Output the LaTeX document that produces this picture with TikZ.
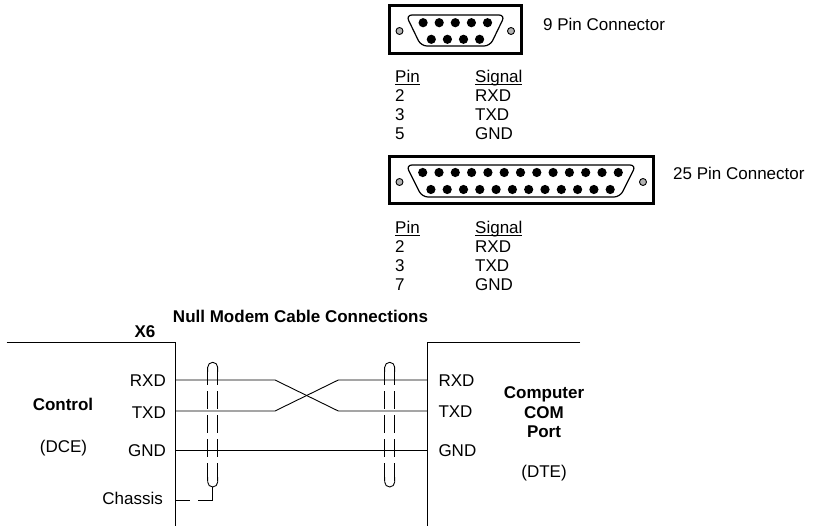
\documentclass[tikz,border=0pt]{standalone}
\usepackage{fontspec}
\setmainfont{Liberation Sans}
\usetikzlibrary{positioning}
\newcommand{\undl}[1]{\setbox0\hbox{#1}\rlap{\rule[-1.9pt]{\wd0}{0.9pt}}\box0}
\tikzset{
  txt/.style={font=\fontsize{17}{19}\selectfont, inner sep=0pt},
  btxt/.style={txt, font=\fontsize{17}{19}\selectfont\bfseries},
  wire/.style={line width=0.9pt},
  dsub/.style={draw, line width=3pt, inner sep=0pt, outer sep=0pt},
  shell/.style={line width=1.2pt, rounded corners=6pt},
  screw/.style={draw, line width=0.9pt, fill=gray!60},
}
\begin{document}
\begin{tikzpicture}[x=1pt,y=-1pt]
\useasboundingbox (0,0) rectangle (819,526);
% 9 pin connector
\node[dsub, minimum width=132pt, minimum height=48pt] (db9) at (455.5,29.5) {};
\draw[shell] (406,15)--(505,15)--(490,46)--(421,46)--cycle;
\foreach \i in {0,...,4} \fill (423.1+16.1*\i,22.7) circle[radius=4.6pt];
\foreach \i in {0,...,3} \fill (431.3+16.1*\i,39.3) circle[radius=4.6pt];
\draw[screw] (399.5,31) circle[radius=3.5pt] (511,31) circle[radius=3.5pt];
\node[txt, anchor=base west] (lbl9) at (543,30.7) {9 Pin Connector};
\node[txt, anchor=base west] (pin9) at (395,83) {\undl{Pin}};
\node[txt, anchor=base west] (sig9) at (475,83) {\undl{Signal}};
\foreach \p/\s [count=\k] in {2/RXD,3/TXD,5/GND}{
  \node[txt, anchor=base west] (p9-\k) at (395,83+19*\k) {\p};
  \node[txt, anchor=base west] (s9-\k) at (475,83+19*\k) {\s};
}
% 25 pin connector
\node[dsub, minimum width=264pt, minimum height=47pt] (db25) at (521.5,180) {};
\draw[shell] (406,165)--(636,165)--(620,197)--(422,197)--cycle;
\foreach \i in {0,...,12} \fill (422.7+16.3*\i,172.5) circle[radius=4.6pt];
\foreach \i in {0,...,11} \fill (430.9+16.3*\i,189.5) circle[radius=4.6pt];
\draw[screw] (399.5,182) circle[radius=3.5pt] (643,182) circle[radius=3.5pt];
\node[txt, anchor=base west] (lbl25) at (673,179.5) {25 Pin Connector};
\node[txt, anchor=base west] (pin25) at (395,234) {\undl{Pin}};
\node[txt, anchor=base west] (sig25) at (475,234) {\undl{Signal}};
\foreach \p/\s [count=\k] in {2/RXD,3/TXD,7/GND}{
  \node[txt, anchor=base west] (p25-\k) at (395,234+18.7*\k) {\p};
  \node[txt, anchor=base west] (s25-\k) at (475,234+18.7*\k) {\s};
}
% null modem cable
\node[btxt, anchor=base] (title) at (300.5,322.7) {Null Modem Cable Connections};
\node[btxt, anchor=base] (x6) at (145,337.3) {X6};
\draw[wire] (6.7,342.7)--(175,342.7)--(175,526);
\draw[wire] (580,342.7)--(427.3,342.7)--(427.3,526);
\node[btxt, anchor=base] (ctrl) at (63,410.7) {Control};
\node[txt, anchor=base] (dce) at (63.5,452.7) {(DCE)};
\node[txt, anchor=base east] (lrxd) at (166,386.7) {RXD};
\node[txt, anchor=base east] (ltxd) at (166,418) {TXD};
\node[txt, anchor=base east] (lgnd) at (166,456.7) {GND};
\node[txt, anchor=base east] (lch) at (163,504) {Chassis};
\node[txt, anchor=base west] (rrxd) at (438.3,387) {RXD};
\node[txt, anchor=base west] (rtxd) at (438.3,417.3) {TXD};
\node[txt, anchor=base west] (rgnd) at (438.3,456.7) {GND};
\node[btxt, anchor=base] (comp) at (544,399) {Computer};
\node[btxt, anchor=base] (com) at (544,418.3) {COM};
\node[btxt, anchor=base] (port) at (544,437.3) {Port};
\node[txt, anchor=base] (dte) at (544,477.3) {(DTE)};
\coordinate (L-rxd) at (175,380);
\coordinate (L-txd) at (175,411);
\coordinate (L-gnd) at (175,450.7);
\coordinate (L-ch) at (175,500.7);
\coordinate (R-rxd) at (427.3,380);
\coordinate (R-txd) at (427.3,411);
\coordinate (R-gnd) at (427.3,450.7);
\coordinate (shield) at (212.7,487);
\draw[wire] (L-rxd)--(275,380)--(338.3,411)--(R-txd);
\draw[wire] (L-txd)--(275,411)--(338.3,380)--(R-rxd);
\draw[wire] (L-gnd)--(R-gnd);
% shields
\foreach \cx in {212.7,389.7}{
  \draw[wire, rounded corners=5pt] (\cx-5,372)--(\cx-5,362.3)--(\cx+5,362.3)--(\cx+5,372);
  \draw[wire, rounded corners=5pt] (\cx-5,477)--(\cx-5,487)--(\cx+5,487)--(\cx+5,477);
  \draw[wire, dash pattern=on 18pt off 6pt] (\cx-5,367.3)--(\cx-5,482) (\cx+5,367.3)--(\cx+5,482);
}
\draw[wire, dash pattern=on 15pt off 8pt] (L-ch)--(L-ch -| shield);
\draw[wire] (L-ch -| shield)--(shield);
\end{tikzpicture}
\end{document}
